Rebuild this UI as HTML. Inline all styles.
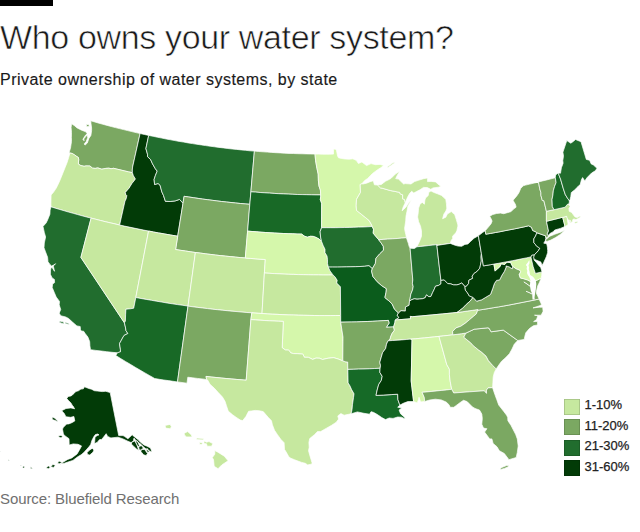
<!DOCTYPE html>
<html><head><meta charset="utf-8"><style>
html,body{margin:0;padding:0;background:#fff;}
body{width:640px;height:532px;position:relative;overflow:hidden;font-family:"Liberation Sans",Arial,sans-serif;color:#1a1a1a;}
.bar{position:absolute;left:0;top:0;width:52.5px;height:6.3px;background:#000;}
h1{position:absolute;left:0;top:16.6px;margin:0;font-weight:normal;font-size:34px;line-height:40px;letter-spacing:-0.35px;white-space:nowrap;-webkit-text-stroke:0.6px #fff;paint-order:normal;}
.sub{position:absolute;left:0;top:70px;margin:0;font-size:16px;line-height:20px;letter-spacing:0.48px;white-space:nowrap;-webkit-text-stroke:0.15px #1a1a1a;}
.src{position:absolute;left:0;top:489.6px;font-size:15px;line-height:18px;letter-spacing:-0.1px;color:#707070;white-space:nowrap;}
svg{position:absolute;left:0;top:0;}
.lg{position:absolute;left:563.6px;width:16.3px;height:16.1px;box-shadow:inset 0 0 0 0.8px rgba(0,0,0,0.18);}
.lt{position:absolute;left:584.5px;font-size:13px;line-height:16px;color:#222;white-space:nowrap;-webkit-text-stroke:0.25px #222;}
</style></head><body>
<div class="bar"></div>
<h1>Who owns your water system?</h1>
<div class="sub">Private ownership of water systems, by state</div>
<svg width="640" height="532" viewBox="0 0 640 532">
<g stroke="#fff" stroke-width="0.7" stroke-linejoin="round">
<path fill="#7ba862" d="M90.8 120.8L94.9 122.0L99.0 123.2L103.0 124.3L107.1 125.4L111.2 126.5L115.4 127.6L119.5 128.6L123.6 129.6L127.7 130.6L131.8 131.6L136.0 132.6L140.1 133.5L132.6 167.0L132.3 170.0L132.4 172.7L128.7 171.9L124.9 171.0L121.1 170.1L117.3 169.2L113.6 168.3L111.1 168.7L108.8 168.2L105.8 168.4L101.8 169.2L97.8 167.9L95.2 168.4L92.4 168.1L90.0 166.0L86.1 165.9L84.1 166.3L80.9 165.6L78.4 164.1L78.4 163.0L78.7 159.6L78.4 157.5L76.3 156.2L74.7 155.0L72.2 153.5L69.5 152.9L69.2 152.2L70.5 148.1L71.0 144.8L71.5 141.5L71.4 137.3L71.5 132.4L71.1 127.4L71.6 123.7L74.5 125.7L77.1 127.9L81.6 130.2L85.8 131.8L87.2 133.6L85.5 135.2L82.9 139.3L84.1 140.8L83.8 138.9L85.7 136.6L87.3 135.0L87.7 137.7L86.2 141.6L84.2 143.9L85.0 145.1L87.3 143.1L88.9 138.4L90.9 135.4L91.6 130.6L91.6 128.0L91.0 123.7L90.8 120.8Z"/>
<path fill="#c6e89f" d="M69.5 152.9L72.2 153.5L74.7 155.0L76.3 156.2L78.4 157.5L78.7 159.6L78.4 163.0L78.4 164.1L80.9 165.6L84.1 166.3L86.1 165.9L90.0 166.0L92.4 168.1L95.2 168.4L97.8 167.9L101.8 169.2L105.8 168.4L108.8 168.2L111.1 168.7L113.6 168.3L117.3 169.2L121.1 170.1L124.9 171.0L128.7 171.9L132.4 172.7L133.4 175.7L135.4 178.9L134.2 180.7L132.2 183.1L130.1 186.4L129.2 188.0L125.3 192.4L125.8 194.6L126.8 195.6L126.4 197.9L125.5 200.3L125.0 201.1L119.6 225.0L114.9 223.9L110.1 222.8L105.3 221.7L100.6 220.5L95.8 219.3L91.1 218.1L86.6 217.0L82.1 215.8L77.7 214.6L73.2 213.3L68.7 212.1L64.3 210.8L59.9 209.5L55.4 208.2L51.0 206.8L50.9 204.0L51.0 199.8L51.1 195.0L53.6 192.1L56.3 188.0L59.0 182.5L61.1 177.5L63.1 172.5L65.1 167.5L67.1 162.5L68.7 157.4L69.8 153.5L69.5 152.9Z"/>
<path fill="#216d2e" d="M51.0 206.8L55.4 208.2L59.9 209.5L64.3 210.8L68.7 212.1L73.2 213.3L77.7 214.6L82.1 215.8L86.6 217.0L91.1 218.1L80.9 257.4L124.4 322.8L125.4 327.0L126.0 330.7L127.9 333.5L124.1 335.4L123.1 337.0L119.5 343.6L120.4 349.2L120.5 351.8L117.4 352.8L112.0 352.3L106.7 351.7L101.3 351.0L95.9 350.4L90.5 349.7L89.9 345.8L89.7 341.7L87.9 337.1L85.3 333.7L83.6 331.2L81.4 331.1L80.5 329.8L80.2 326.5L76.9 325.9L72.7 322.3L68.6 318.5L65.6 316.9L60.8 315.8L59.2 313.2L60.7 309.5L59.2 304.8L59.5 301.4L56.2 297.0L54.2 292.3L52.2 287.5L52.6 284.1L54.6 282.6L54.4 279.4L52.1 277.9L50.4 274.3L50.5 270.1L51.2 267.5L52.1 267.5L54.5 271.3L53.3 266.0L55.6 263.7L53.5 265.1L51.6 266.0L49.9 264.4L48.0 261.7L47.6 257.3L45.5 251.8L44.0 247.8L44.3 243.0L45.6 237.0L44.3 232.4L43.0 226.4L46.1 223.0L47.6 219.9L49.9 214.2L50.1 210.1L51.0 206.8Z"/>
<path fill="#c6e89f" d="M91.1 218.1L95.8 219.3L100.6 220.5L105.3 221.7L110.1 222.8L114.9 223.9L119.6 225.0L124.4 226.1L129.3 227.1L134.1 228.1L138.9 229.1L143.7 230.1L148.6 231.0L135.8 297.5L133.7 308.2L130.3 308.8L125.9 309.2L125.6 314.8L125.4 321.0L124.4 322.8L80.9 257.4L91.1 218.1Z"/>
<path fill="#023b07" d="M140.1 133.5L144.4 134.5L148.7 135.4L145.9 148.6L147.5 154.2L147.5 156.6L150.6 159.6L152.5 163.8L155.3 168.7L157.2 171.1L155.4 175.5L154.1 179.4L154.6 184.5L158.1 183.5L160.1 185.3L161.8 191.8L163.5 195.5L165.4 201.3L170.2 201.5L175.1 200.9L179.5 199.4L183.0 203.2L177.7 236.2L172.8 235.4L168.0 234.6L163.1 233.7L158.3 232.9L153.4 232.0L148.6 231.0L143.7 230.1L138.9 229.1L134.1 228.1L129.3 227.1L124.4 226.1L119.6 225.0L125.0 201.1L125.5 200.3L126.4 197.9L126.8 195.6L125.8 194.6L125.3 192.4L129.2 188.0L130.1 186.4L132.2 183.1L134.2 180.7L135.4 178.9L133.4 175.7L132.4 172.7L132.3 170.0L132.6 167.0L140.1 133.5Z"/>
<path fill="#216d2e" d="M148.7 135.4L153.1 136.3L157.4 137.2L161.8 138.1L166.2 139.0L170.6 139.8L174.9 140.6L179.3 141.4L183.7 142.1L188.1 142.9L192.5 143.6L196.9 144.3L201.3 144.9L205.7 145.6L210.1 146.2L214.5 146.8L218.9 147.4L223.4 147.9L227.8 148.5L232.2 149.0L236.6 149.4L241.1 149.9L245.5 150.3L249.9 150.8L254.4 151.1L250.9 191.8L249.8 204.3L245.1 203.9L240.4 203.5L235.7 203.0L231.0 202.5L226.3 202.0L221.6 201.5L216.9 200.9L212.2 200.3L207.5 199.7L202.8 199.1L198.1 198.4L193.4 197.7L188.8 197.0L184.1 196.3L183.0 203.2L179.5 199.4L175.1 200.9L170.2 201.5L165.4 201.3L163.5 195.5L161.8 191.8L160.1 185.3L158.1 183.5L154.6 184.5L154.1 179.4L155.4 175.5L157.2 171.1L155.3 168.7L152.5 163.8L150.6 159.6L147.5 156.6L147.5 154.2L145.9 148.6L148.7 135.4Z"/>
<path fill="#7ba862" d="M183.0 203.2L184.1 196.3L188.8 197.0L193.4 197.7L198.1 198.4L202.8 199.1L207.5 199.7L212.2 200.3L216.9 200.9L221.6 201.5L226.3 202.0L231.0 202.5L235.7 203.0L240.4 203.5L245.1 203.9L249.8 204.3L247.6 231.1L245.3 258.0L240.3 257.6L235.3 257.1L230.3 256.6L225.3 256.1L220.3 255.6L215.3 255.0L210.3 254.4L205.4 253.8L200.4 253.1L195.4 252.5L190.5 251.8L185.5 251.0L180.5 250.3L175.6 249.5L177.7 236.2L183.0 203.2Z"/>
<path fill="#c6e89f" d="M148.6 231.0L153.4 232.0L158.3 232.9L163.1 233.7L168.0 234.6L172.8 235.4L177.7 236.2L175.6 249.5L180.5 250.3L185.5 251.0L190.5 251.8L195.4 252.5L188.0 306.1L182.8 305.3L177.5 304.6L172.3 303.8L167.1 303.0L161.9 302.1L156.6 301.2L151.4 300.3L146.2 299.4L141.0 298.5L135.8 297.5L148.6 231.0Z"/>
<path fill="#c6e89f" d="M195.4 252.5L200.4 253.1L205.4 253.8L210.3 254.4L215.3 255.0L220.3 255.6L225.3 256.1L230.3 256.6L235.3 257.1L240.3 257.6L245.3 258.0L250.3 258.4L255.3 258.8L260.3 259.2L265.3 259.5L264.4 273.0L262.0 313.5L256.9 313.2L251.8 312.8L246.9 312.5L242.0 312.1L237.0 311.6L232.1 311.2L227.2 310.7L222.3 310.2L217.4 309.7L212.5 309.2L207.6 308.6L202.7 308.0L197.8 307.4L192.9 306.8L188.0 306.1L195.4 252.5Z"/>
<path fill="#186926" d="M135.8 297.5L141.0 298.5L146.2 299.4L151.4 300.3L156.6 301.2L161.9 302.1L167.1 303.0L172.3 303.8L177.5 304.6L182.8 305.3L188.0 306.1L177.5 381.9L173.0 381.3L168.4 380.6L163.8 380.0L159.3 379.3L154.7 378.5L149.8 375.7L144.9 372.9L140.0 370.1L135.1 367.2L130.3 364.3L125.4 361.4L120.6 358.5L115.8 355.5L117.4 352.8L120.5 351.8L120.4 349.2L119.5 343.6L123.1 337.0L124.1 335.4L127.9 333.5L126.0 330.7L125.4 327.0L124.4 322.8L125.4 321.0L125.6 314.8L125.9 309.2L130.3 308.8L133.7 308.2L135.8 297.5Z"/>
<path fill="#7ba862" d="M188.0 306.1L192.9 306.8L197.8 307.4L202.7 308.0L207.6 308.6L212.5 309.2L217.4 309.7L222.3 310.2L227.2 310.7L232.1 311.2L237.0 311.6L242.0 312.1L246.9 312.5L251.8 312.8L250.9 319.6L246.2 380.2L241.1 379.8L236.1 379.4L231.1 378.9L226.1 378.5L221.1 378.0L216.1 377.5L211.1 377.0L206.0 376.4L206.7 379.5L202.0 378.9L197.3 378.4L192.5 377.8L187.8 377.2L187.0 383.2L177.5 381.9L188.0 306.1Z"/>
<path fill="#7ba862" d="M254.4 151.1L258.7 151.5L263.0 151.8L267.3 152.1L271.7 152.4L276.0 152.7L280.3 152.9L284.7 153.2L289.0 153.4L293.3 153.5L297.7 153.7L302.0 153.8L306.3 153.9L310.7 154.0L315.0 154.1L315.6 160.7L316.9 168.1L318.2 174.1L318.4 180.7L319.0 186.1L320.4 190.1L320.7 194.9L316.1 194.9L311.4 194.8L306.7 194.7L302.1 194.6L297.4 194.5L292.8 194.3L288.1 194.1L283.5 193.9L278.8 193.7L274.2 193.4L269.5 193.1L264.8 192.8L260.2 192.5L255.6 192.1L250.9 191.8L254.4 151.1Z"/>
<path fill="#186926" d="M250.9 191.8L255.6 192.1L260.2 192.5L264.8 192.8L269.5 193.1L274.2 193.4L278.8 193.7L283.5 193.9L288.1 194.1L292.8 194.3L297.4 194.5L302.1 194.6L306.7 194.7L311.4 194.8L316.1 194.9L320.7 194.9L320.7 196.8L320.3 199.5L321.7 203.5L321.6 227.7L320.1 231.7L320.6 237.1L321.5 241.3L319.1 239.1L316.2 237.5L313.3 236.4L310.3 236.3L307.4 237.2L304.5 236.2L301.6 234.1L297.1 234.0L292.6 233.8L288.1 233.7L283.6 233.5L279.1 233.3L274.6 233.0L270.1 232.8L265.6 232.5L261.1 232.2L256.6 231.8L252.1 231.5L247.6 231.1L249.8 204.3L250.9 191.8Z"/>
<path fill="#d5f7ab" d="M247.6 231.1L252.1 231.5L256.6 231.8L261.1 232.2L265.6 232.5L270.1 232.8L274.6 233.0L279.1 233.3L283.6 233.5L288.1 233.7L292.6 233.8L297.1 234.0L301.6 234.1L304.5 236.2L307.4 237.2L310.3 236.3L313.3 236.4L316.2 237.5L319.1 239.1L321.5 241.3L323.0 245.2L325.0 249.3L325.0 252.7L327.0 256.0L327.5 259.4L327.5 263.5L328.3 267.1L330.0 270.9L333.0 274.9L328.1 275.0L323.2 275.0L318.3 274.9L313.4 274.9L308.5 274.8L303.6 274.7L298.7 274.6L293.8 274.4L288.9 274.3L284.0 274.1L279.1 273.8L274.2 273.6L269.3 273.3L264.4 273.0L265.3 259.5L260.3 259.2L255.3 258.8L250.3 258.4L245.3 258.0L247.6 231.1Z"/>
<path fill="#c6e89f" d="M264.4 273.0L269.3 273.3L274.2 273.6L279.1 273.8L284.0 274.1L288.9 274.3L293.8 274.4L298.7 274.6L303.6 274.7L308.5 274.8L313.4 274.9L318.3 274.9L323.2 275.0L328.1 275.0L333.0 274.9L335.1 277.0L337.2 280.3L336.7 283.0L340.4 286.8L340.7 315.5L335.4 315.5L330.2 315.6L324.9 315.6L319.7 315.6L314.4 315.5L309.2 315.4L303.9 315.3L298.7 315.2L293.4 315.0L288.2 314.9L282.9 314.7L277.7 314.4L272.4 314.2L267.2 313.9L262.0 313.5L264.4 273.0Z"/>
<path fill="#d5f7ab" d="M251.8 312.8L256.9 313.2L262.0 313.5L267.2 313.9L272.4 314.2L277.7 314.4L282.9 314.7L288.2 314.9L293.4 315.0L298.7 315.2L303.9 315.3L309.2 315.4L314.4 315.5L319.7 315.6L324.9 315.6L330.2 315.6L335.4 315.5L340.7 315.5L340.7 322.2L343.0 337.1L342.8 360.9L338.1 359.0L333.7 357.7L328.2 358.2L322.6 359.5L319.3 358.2L316.0 358.1L312.7 359.4L308.3 357.3L304.4 357.3L302.8 354.1L297.3 353.7L293.5 353.6L290.8 352.9L288.7 350.1L285.4 350.0L282.2 347.7L283.3 321.4L278.6 321.2L274.0 321.0L269.4 320.8L264.8 320.5L260.1 320.2L255.5 319.9L250.9 319.6L251.8 312.8Z"/>
<path fill="#c6e89f" d="M250.9 319.6L255.5 319.9L260.1 320.2L264.8 320.5L269.4 320.8L274.0 321.0L278.6 321.2L283.3 321.4L282.2 347.7L285.4 350.0L288.7 350.1L290.8 352.9L293.5 353.6L297.3 353.7L302.8 354.1L304.4 357.3L308.3 357.3L312.7 359.4L316.0 358.1L319.3 358.2L322.6 359.5L328.2 358.2L333.7 357.7L338.1 359.0L342.8 360.9L345.9 361.9L347.7 362.0L347.8 369.1L348.1 382.9L349.8 385.6L351.6 389.6L354.0 393.8L353.5 397.6L352.5 404.3L352.0 409.7L351.1 413.8L344.1 415.2L340.9 413.6L337.8 415.9L338.6 419.1L336.3 422.2L331.6 425.3L326.1 428.4L320.6 431.6L317.5 431.6L314.4 434.7L309.7 438.6L308.9 442.5L309.2 447.3L308.5 450.7L310.2 456.7L312.0 462.7L312.0 464.0L307.7 464.9L305.3 463.3L301.7 462.4L298.0 461.1L294.4 459.7L290.2 458.0L288.5 456.2L286.2 452.1L284.5 449.4L284.1 442.7L280.7 439.2L277.3 434.4L274.5 430.3L272.4 424.8L271.5 420.8L268.1 417.2L263.2 411.6L259.2 410.7L255.1 410.4L251.6 410.9L248.6 411.3L245.9 416.5L242.7 420.6L240.4 420.1L237.0 417.9L232.6 414.8L228.2 411.1L226.4 405.5L225.0 401.3L222.5 397.1L218.3 392.6L214.2 388.1L210.0 384.3L207.6 380.0L206.7 379.5L206.0 376.4L211.1 377.0L216.1 377.5L221.1 378.0L226.1 378.5L231.1 378.9L236.1 379.4L241.1 379.8L246.2 380.2L250.9 319.6Z"/>
<path fill="#d5f7ab" d="M315.0 154.1L318.7 154.1L322.4 154.2L326.1 154.2L329.8 154.2L333.5 154.1L333.5 149.1L335.3 149.2L336.4 150.1L337.6 156.1L338.5 157.8L341.6 158.5L345.2 159.0L349.3 159.2L352.8 158.8L356.2 160.3L358.4 163.5L361.9 162.0L366.6 165.6L371.0 163.6L375.6 164.7L380.1 164.4L383.8 165.5L380.8 167.7L377.3 169.9L372.5 173.5L367.7 178.4L364.6 180.6L361.9 183.8L360.2 184.5L360.5 192.4L356.5 199.4L356.2 205.7L356.5 210.4L361.3 214.2L365.7 217.7L369.2 220.6L371.8 225.2L372.2 226.5L367.6 226.8L363.0 227.0L358.4 227.1L353.8 227.3L349.2 227.4L344.6 227.5L340.0 227.6L335.4 227.7L330.8 227.7L326.2 227.7L321.6 227.7L321.7 203.5L320.3 199.5L320.7 196.8L320.7 194.9L320.4 190.1L319.0 186.1L318.4 180.7L318.2 174.1L316.9 168.1L315.6 160.7L315.0 154.1Z"/>
<path fill="#216d2e" d="M321.6 227.7L326.2 227.7L330.8 227.7L335.4 227.7L340.0 227.6L344.6 227.5L349.2 227.4L353.8 227.3L358.4 227.1L363.0 227.0L367.6 226.8L372.2 226.5L373.5 229.2L373.2 233.2L376.3 236.9L378.6 239.6L381.1 242.9L383.3 246.2L383.5 250.2L379.8 253.8L376.0 258.1L375.3 263.6L372.3 268.7L369.0 265.7L364.5 266.3L360.0 266.5L355.5 266.7L350.9 266.8L346.4 266.9L341.9 267.0L337.3 267.1L332.8 267.1L328.3 267.1L327.5 263.5L327.5 259.4L327.0 256.0L325.0 252.7L325.0 249.3L323.0 245.2L321.5 241.3L320.6 237.1L320.1 231.7L321.6 227.7Z"/>
<path fill="#0b5c1c" d="M328.3 267.1L332.8 267.1L337.3 267.1L341.9 267.0L346.4 266.9L350.9 266.8L355.5 266.7L360.0 266.5L364.5 266.3L369.0 265.7L372.3 268.7L371.6 271.2L372.9 276.5L377.2 281.7L381.6 285.6L386.4 288.7L386.1 292.1L384.9 297.6L388.7 300.7L392.1 303.9L394.5 309.2L398.5 313.0L397.1 315.1L398.9 317.7L395.3 320.0L394.9 322.7L393.6 326.9L390.0 327.1L386.4 327.3L389.1 323.1L388.4 320.4L383.1 320.7L377.8 321.0L372.5 321.3L367.2 321.5L361.9 321.7L356.6 321.9L351.3 322.0L346.0 322.1L340.7 322.2L340.7 315.5L340.4 286.8L336.7 283.0L337.2 280.3L335.1 277.0L333.0 274.9L330.0 270.9L328.3 267.1Z"/>
<path fill="#7ba862" d="M340.7 322.2L346.0 322.1L351.3 322.0L356.6 321.9L361.9 321.7L367.2 321.5L372.5 321.3L377.8 321.0L383.1 320.7L388.4 320.4L389.1 323.1L386.4 327.3L390.0 327.1L393.6 326.9L394.4 330.2L391.9 333.8L390.5 337.2L390.1 339.3L388.0 340.8L386.5 344.2L385.7 348.4L382.6 352.6L381.2 357.4L379.8 362.2L380.5 365.5L380.1 368.3L374.7 368.5L369.4 368.8L364.0 369.0L358.6 369.1L353.2 369.3L347.9 369.4L347.8 369.1L347.7 362.0L345.9 361.9L342.8 360.9L343.0 337.1L340.7 322.2Z"/>
<path fill="#166a27" d="M347.9 369.4L353.2 369.3L358.6 369.1L364.0 369.0L369.4 368.8L374.7 368.5L380.1 368.3L379.8 372.3L382.2 376.3L381.3 380.4L378.7 384.5L377.2 390.0L376.0 395.4L383.2 395.1L391.2 394.6L397.7 394.2L397.9 399.6L399.3 403.5L400.0 405.1L397.7 407.2L401.9 408.1L399.1 410.0L400.5 413.7L404.5 417.2L405.2 418.9L401.4 417.2L397.7 417.0L393.0 418.4L389.2 418.0L385.5 419.6L381.7 417.5L378.9 415.6L376.1 413.8L373.3 412.3L371.0 411.7L369.6 414.2L363.9 413.3L357.4 411.9L351.1 413.8L352.0 409.7L352.5 404.3L353.5 397.6L354.0 393.8L351.6 389.6L349.8 385.6L348.1 382.9L347.8 369.1Z"/>
<path fill="#c6e89f" d="M372.2 226.5L371.8 225.2L369.2 220.6L365.7 217.7L361.3 214.2L356.5 210.4L356.2 205.7L356.5 199.4L360.5 192.4L360.2 184.5L361.9 183.8L362.9 184.0L366.5 183.2L370.1 181.7L373.3 180.8L374.4 184.8L377.5 185.0L380.5 187.9L382.5 188.3L390.2 190.5L394.9 191.4L399.7 192.4L400.3 194.0L402.7 194.8L402.6 198.9L404.5 199.4L405.3 202.7L403.2 206.9L402.1 210.8L405.7 207.4L408.6 203.1L411.6 199.7L407.9 206.1L407.0 211.3L406.0 216.1L405.7 220.9L404.6 228.4L405.0 231.1L405.8 234.4L406.4 237.7L401.8 238.1L397.1 238.5L392.5 238.8L387.8 239.1L383.2 239.4L378.6 239.7L378.6 239.6L376.3 236.9L373.2 233.2L373.5 229.2L372.2 226.5Z"/>
<path fill="#c6e89f" d="M377.5 185.0L381.4 184.4L385.8 181.0L387.6 180.3L391.1 178.3L395.4 174.0L399.7 171.2L397.3 175.2L395.7 178.6L398.5 179.1L403.6 184.0L405.4 183.6L411.0 184.0L414.5 181.6L419.0 180.1L423.5 178.7L427.6 177.9L427.5 181.6L431.2 181.4L435.5 181.9L439.7 185.5L441.2 186.3L438.5 187.2L433.0 187.9L430.8 189.3L427.3 187.6L423.5 187.4L420.0 189.8L416.5 191.5L413.8 193.1L411.7 191.3L409.6 193.5L407.6 197.1L405.3 202.7L404.5 199.4L402.6 198.9L402.7 194.8L400.3 194.0L399.7 192.4L394.9 191.4L390.2 190.5L382.5 188.3L380.5 187.9L377.5 185.0ZM416.9 246.8L420.9 246.4L424.9 246.0L428.8 245.5L432.8 245.1L436.8 244.6L437.0 245.4L450.2 243.4L451.3 240.2L452.6 238.7L452.7 235.9L454.5 234.3L455.8 232.8L456.9 230.6L457.8 226.4L457.9 225.0L456.4 219.8L454.7 214.6L451.3 211.6L447.3 214.0L445.8 217.2L442.6 218.7L443.9 214.0L445.9 211.0L446.8 208.2L446.4 203.5L445.8 199.5L444.7 198.3L441.5 195.4L437.5 193.8L433.5 192.3L431.0 190.9L428.8 192.2L428.2 195.6L425.6 197.9L424.9 200.0L424.4 204.2L422.3 202.4L420.1 203.9L418.6 208.1L418.2 212.9L417.6 217.0L418.6 221.7L420.5 226.2L421.5 230.9L421.5 236.3L419.6 241.2L416.9 246.8Z"/>
<path fill="#7ba862" d="M378.6 239.7L383.2 239.4L387.8 239.1L392.5 238.8L397.1 238.5L401.8 238.1L406.4 237.7L408.4 243.6L409.1 246.3L410.1 248.2L412.8 279.9L412.4 283.3L413.2 286.6L412.5 290.1L410.8 294.3L410.1 298.5L409.5 301.2L409.1 305.3L405.5 307.0L405.3 311.1L401.0 310.7L398.5 313.0L394.5 309.2L392.1 303.9L388.7 300.7L384.9 297.6L386.1 292.1L386.4 288.7L381.6 285.6L377.2 281.7L372.9 276.5L371.6 271.2L372.3 268.7L375.3 263.6L376.0 258.1L379.8 253.8L383.5 250.2L383.3 246.2L381.1 242.9L378.6 239.6Z"/>
<path fill="#216d2e" d="M416.9 246.8L420.9 246.4L424.9 246.0L428.8 245.5L432.8 245.1L436.8 244.6L440.9 280.4L441.0 283.8L438.6 285.4L435.5 286.2L433.9 290.0L432.6 292.6L430.9 296.5L428.8 296.7L426.5 294.9L425.2 297.7L422.7 298.7L419.6 299.0L417.0 299.2L414.3 298.8L411.7 299.7L409.5 301.2L410.1 298.5L410.8 294.3L412.5 290.1L413.2 286.6L412.4 283.3L412.8 279.9L410.1 248.2L414.3 248.5L416.9 246.8Z"/>
<path fill="#023b07" d="M450.2 243.4L437.0 245.4L436.8 244.6L440.9 280.4L444.2 280.0L447.7 283.6L450.9 283.9L453.6 284.9L456.8 284.9L459.3 284.2L461.7 282.9L464.9 286.5L466.4 286.3L468.6 283.5L468.9 280.2L472.6 278.4L472.2 276.2L473.9 273.6L477.2 271.3L479.8 268.1L480.4 265.3L481.3 261.0L481.1 257.0L481.4 253.6L478.4 235.8L474.0 238.2L470.5 241.5L467.9 244.0L464.9 244.4L461.7 246.3L458.1 246.1L455.0 245.2L450.2 243.4Z"/>
<path fill="#023b07" d="M464.9 286.5L461.7 282.9L459.3 284.2L456.8 284.9L453.6 284.9L450.9 283.9L447.7 283.6L444.2 280.0L440.9 280.4L441.0 283.8L438.6 285.4L435.5 286.2L433.9 290.0L432.6 292.6L430.9 296.5L428.8 296.7L426.5 294.9L425.2 297.7L422.7 298.7L419.6 299.0L417.0 299.2L414.3 298.8L411.7 299.7L409.5 301.2L409.1 305.3L405.5 307.0L405.3 311.1L401.0 310.7L398.5 313.0L397.1 315.1L398.9 317.7L395.3 320.0L410.7 318.8L410.3 316.4L412.7 316.7L427.0 315.4L442.9 313.9L457.0 312.5L462.6 308.3L466.3 304.4L470.1 301.1L473.1 297.4L469.4 296.0L467.3 292.6L465.4 290.2L464.9 286.5Z"/>
<path fill="#c6e89f" d="M457.0 312.5L442.9 313.9L427.0 315.4L412.7 316.7L410.3 316.4L410.7 318.8L395.3 320.0L394.9 322.7L393.6 326.9L394.4 330.2L391.9 333.8L390.5 337.2L390.1 339.3L388.0 340.8L392.5 340.5L397.1 340.2L401.7 339.9L406.2 339.5L410.8 339.1L415.5 338.8L420.2 338.3L424.9 337.9L429.6 337.4L434.3 336.9L439.0 336.4L443.6 335.9L448.2 335.4L452.8 334.8L452.6 331.4L456.0 327.9L460.7 326.3L465.7 322.9L469.6 319.6L473.4 316.4L476.3 313.9L478.0 309.5L472.8 310.3L467.5 311.0L462.3 311.8L457.0 312.5Z"/>
<path fill="#023b07" d="M410.8 339.1L406.2 339.5L401.7 339.9L397.1 340.2L392.5 340.5L388.0 340.8L386.5 344.2L385.7 348.4L382.6 352.6L381.2 357.4L379.8 362.2L380.5 365.5L380.1 368.3L379.8 372.3L382.2 376.3L381.3 380.4L378.7 384.5L377.2 390.0L376.0 395.4L383.2 395.1L391.2 394.6L397.7 394.2L397.9 399.6L399.3 403.5L400.0 405.1L403.3 403.3L407.8 401.6L413.6 401.5L411.2 381.1L412.0 340.4L410.8 339.1Z"/>
<path fill="#d5f7ab" d="M439.0 336.4L434.3 336.9L429.6 337.4L424.9 337.9L420.2 338.3L415.5 338.8L410.8 339.1L412.0 340.4L411.2 381.1L413.6 401.5L417.2 402.9L418.6 399.4L419.0 397.3L420.6 401.9L424.6 401.5L424.3 397.5L422.1 392.3L427.0 391.9L431.9 391.4L436.9 390.9L441.8 390.4L446.8 389.9L451.7 389.3L450.2 381.3L449.4 374.7L449.4 369.2L446.8 364.6L439.0 336.4Z"/>
<path fill="#c6e89f" d="M452.8 334.8L448.2 335.4L443.6 335.9L439.0 336.4L446.8 364.6L449.4 369.2L449.4 374.7L450.2 381.3L451.7 389.3L453.7 393.0L469.4 391.8L484.3 390.8L486.5 393.4L486.5 390.1L488.0 387.9L492.6 387.7L492.9 382.3L493.2 376.9L494.3 372.6L496.2 368.9L492.6 365.4L488.4 360.6L486.0 356.1L481.5 352.1L478.3 349.8L473.3 345.7L470.6 342.7L466.9 339.8L463.8 337.2L465.9 333.1L461.5 333.7L457.2 334.3L452.8 334.8Z"/>
<path fill="#7ba862" d="M451.7 389.3L446.8 389.9L441.8 390.4L436.9 390.9L431.9 391.4L427.0 391.9L422.1 392.3L424.3 397.5L424.6 401.5L429.7 400.0L435.4 399.2L441.3 399.9L446.2 402.1L448.8 404.5L450.3 407.3L453.8 407.3L457.0 404.9L460.2 402.5L463.5 400.3L467.1 401.6L472.5 407.0L475.0 408.4L479.5 410.1L481.8 414.0L482.3 418.5L481.8 424.2L483.5 428.1L486.9 428.7L484.6 432.1L489.7 438.9L491.9 438.9L493.1 443.4L497.0 446.8L499.3 450.7L504.3 453.5L507.7 458.0L508.9 459.7L516.2 457.5L517.3 452.4L518.2 446.0L517.3 438.9L515.6 434.3L511.1 425.6L507.9 420.7L507.7 417.4L506.6 415.2L504.0 411.8L498.7 405.0L496.7 399.4L494.8 394.3L492.6 387.7L488.0 387.9L486.5 390.1L486.5 393.4L484.3 390.8L469.4 391.8L453.7 393.0L451.7 389.3Z"/>
<path fill="#7ba862" d="M517.8 340.5L503.3 330.1L491.1 331.8L489.1 328.3L487.9 327.8L474.2 329.2L469.1 331.6L465.9 333.1L463.8 337.2L466.9 339.8L470.6 342.7L473.3 345.7L478.3 349.8L481.5 352.1L486.0 356.1L488.4 360.6L492.6 365.4L496.2 368.9L498.8 365.1L501.6 361.2L505.5 357.8L509.4 353.7L512.0 349.1L514.4 343.9L517.8 340.5Z"/>
<path fill="#7ba862" d="M478.0 309.5L476.3 313.9L473.4 316.4L469.6 319.6L465.7 322.9L460.7 326.3L456.0 327.9L452.6 331.4L452.8 334.8L457.2 334.3L461.5 333.7L465.9 333.1L469.1 331.6L474.2 329.2L487.9 327.8L489.1 328.3L491.1 331.8L503.3 330.1L517.8 340.5L524.2 339.4L524.8 336.4L525.8 332.8L529.4 328.6L533.3 325.8L537.6 324.9L537.5 321.5L533.6 321.6L536.5 319.6L537.9 315.8L534.5 315.2L541.1 315.2L543.1 311.3L542.7 307.2L539.4 307.2L533.0 307.9L539.1 305.9L541.6 304.7L540.5 302.2L539.1 299.0L534.0 300.1L529.0 301.1L523.9 302.1L518.9 303.1L513.8 304.1L508.7 305.1L503.6 306.0L498.5 306.9L493.4 307.7L488.3 308.6L483.2 309.4L478.1 310.2Z"/>
<path fill="#7ba862" d="M457.0 312.5L462.3 311.8L467.5 311.0L472.8 310.3L478.0 309.5L478.1 310.2L483.2 309.4L488.3 308.6L493.4 307.7L498.5 306.9L503.6 306.0L508.7 305.1L513.8 304.1L518.9 303.1L523.9 302.1L529.0 301.1L534.0 300.1L539.1 299.0L537.1 294.6L536.7 294.3L536.4 291.7L537.6 286.2L539.5 282.3L541.3 278.0L537.4 280.0L531.5 282.1L527.7 280.0L523.7 278.7L520.4 278.0L519.2 274.8L520.7 271.7L519.7 270.1L515.9 268.6L512.6 266.2L512.1 268.9L509.5 267.0L506.0 265.9L506.2 267.0L504.4 271.4L501.9 275.3L499.6 279.9L496.5 280.4L494.4 283.5L492.7 288.6L490.5 294.5L485.1 297.7L481.7 299.8L476.6 301.2L473.1 297.4L470.1 301.1L466.3 304.4L462.6 308.3L457.0 312.5Z"/>
<path fill="#023b07" d="M481.4 253.6L481.1 257.0L481.3 261.0L480.4 265.3L479.8 268.1L477.2 271.3L473.9 273.6L472.2 276.2L472.6 278.4L468.9 280.2L468.6 283.5L466.4 286.3L464.9 286.5L465.4 290.2L467.3 292.6L469.4 296.0L473.1 297.4L476.6 301.2L481.7 299.8L485.1 297.7L490.5 294.5L492.7 288.6L494.4 283.5L496.5 280.4L499.6 279.9L501.9 275.3L504.4 271.4L506.2 267.0L506.0 265.9L509.5 267.0L512.1 268.9L512.6 266.2L511.5 264.6L510.9 262.6L507.0 262.1L504.7 264.5L501.3 263.8L499.6 267.0L497.6 268.6L495.1 271.1L493.9 264.1L490.4 264.7L486.9 265.3L483.4 265.9L481.4 253.6Z"/>
<path fill="#d5f7ab" d="M493.9 264.1L498.5 263.3L503.2 262.4L507.8 261.6L512.4 260.7L517.0 259.8L521.6 258.8L526.3 257.9L530.9 256.9L533.1 266.4L535.4 273.4L542.0 271.9L541.7 275.6L541.3 278.0L537.4 280.0L531.5 282.1L527.7 280.0L523.7 278.7L520.4 278.0L519.2 274.8L520.7 271.7L519.7 270.1L515.9 268.6L512.6 266.2L511.5 264.6L510.9 262.6L507.0 262.1L504.7 264.5L501.3 263.8L499.6 267.0L497.6 268.6L495.1 271.1L493.9 264.1Z"/>
<path fill="#023b07" d="M530.9 256.9L531.5 255.4L532.9 254.8L534.3 255.0L534.0 257.2L534.0 259.9L536.1 262.2L539.0 265.8L540.7 267.5L542.0 271.9L535.4 273.4L533.1 266.4L530.9 256.9Z"/>
<path fill="#023b07" d="M478.4 235.8L482.2 232.8L485.2 230.7L485.8 234.2L490.6 233.4L495.4 232.5L500.1 231.7L504.9 230.7L509.6 229.8L514.4 228.9L519.1 227.9L523.9 226.9L528.6 225.8L531.5 227.3L532.7 230.5L536.1 232.0L536.9 232.8L535.5 236.1L533.8 238.9L533.9 242.8L535.2 244.2L536.7 246.2L538.6 247.4L539.8 248.3L538.3 250.7L536.8 252.4L534.9 254.2L534.3 255.0L532.9 254.8L531.5 255.4L530.9 256.9L526.3 257.9L521.6 258.8L517.0 259.8L512.4 260.7L507.8 261.6L503.2 262.4L498.5 263.3L493.9 264.1L490.4 264.7L486.9 265.3L483.4 265.9L481.4 253.6L478.4 235.8Z"/>
<path fill="#023b07" d="M534.3 255.0L534.9 254.2L536.8 252.4L538.3 250.7L539.8 248.3L538.6 247.4L536.7 246.2L535.2 244.2L533.9 242.8L533.8 238.9L535.5 236.1L536.9 232.8L545.6 235.8L545.8 238.5L545.3 240.7L544.2 242.4L543.8 243.2L545.5 243.5L546.8 243.9L547.4 247.2L547.7 250.6L547.6 252.7L546.4 256.5L545.4 258.8L543.6 262.7L542.1 265.4L540.8 261.9L538.5 261.0L535.0 259.7L533.6 258.0L534.3 255.0Z"/>
<path fill="#7ba862" d="M485.8 234.2L485.2 230.7L488.2 227.3L491.1 223.7L492.1 221.1L491.2 218.9L489.7 216.2L492.8 214.5L496.6 213.5L500.5 213.1L503.6 213.7L507.3 212.7L511.1 211.6L513.5 209.1L516.1 207.2L515.5 204.5L514.0 202.1L513.1 200.2L516.7 196.0L518.9 192.8L520.8 188.2L523.3 185.8L525.5 185.1L529.8 184.1L534.1 183.1L538.4 182.1L538.3 182.0L539.0 184.7L539.7 188.7L540.9 192.6L540.9 195.3L542.3 200.5L543.9 200.7L546.4 211.3L546.4 221.0L548.5 231.0L547.1 234.1L548.1 235.4L548.0 236.6L547.3 237.9L545.8 237.4L545.6 235.8L536.9 232.8L536.1 232.0L532.7 230.5L531.5 227.3L528.6 225.8L523.9 226.9L519.1 227.9L514.4 228.9L509.6 229.8L504.9 230.7L500.1 231.7L495.4 232.5L490.6 233.4L485.8 234.2ZM545.7 241.1L547.1 241.4L550.9 240.1L555.5 237.6L559.9 234.7L565.3 229.9L561.3 231.9L558.5 232.9L554.7 234.3L549.9 236.2L547.3 238.2L545.5 240.0L545.7 241.1Z"/>
<path fill="#023b07" d="M548.1 235.4L547.1 234.1L548.5 231.0L546.4 221.0L546.5 221.3L550.5 220.3L554.6 219.3L558.6 218.3L562.7 217.2L562.7 217.4L564.7 225.2L564.5 226.7L560.4 228.4L558.5 228.9L554.7 230.1L553.0 231.9L550.3 233.3L548.1 235.4Z"/>
<path fill="#c6e89f" d="M564.5 226.7L564.7 225.2L562.7 217.4L566.7 216.3L567.1 217.9L568.1 220.0L569.6 220.3L570.4 220.4L571.0 222.4L570.3 223.0L568.6 220.3L567.3 219.2L568.0 223.9L567.8 225.1L564.5 226.7Z"/>
<path fill="#c6e89f" d="M562.7 217.2L558.6 218.3L554.6 219.3L550.5 220.3L546.5 221.3L546.4 221.0L546.4 211.3L554.0 209.7L565.1 207.2L567.4 204.3L569.1 203.8L568.9 204.7L570.1 206.6L568.9 208.5L569.2 211.3L571.8 212.5L573.2 214.6L575.0 216.9L577.4 217.6L579.7 216.2L580.9 216.5L579.3 218.1L576.5 219.3L575.0 219.7L574.1 218.8L572.7 219.7L572.6 221.7L571.0 222.4L570.4 220.4L569.6 220.3L568.1 220.0L567.1 217.9L566.7 216.3L562.7 217.4Z"/>
<path fill="#7ba862" d="M554.0 209.7L546.4 211.3L543.9 200.7L542.3 200.5L540.9 195.3L540.9 192.6L539.7 188.7L539.0 184.7L538.3 182.0L542.6 180.9L546.8 179.9L551.1 178.8L555.3 177.7L556.1 182.5L554.6 186.3L553.3 190.8L552.9 195.1L552.0 199.5L552.3 206.4L554.0 209.7Z"/>
<path fill="#186926" d="M554.0 209.7L552.3 206.4L552.0 199.5L552.9 195.1L553.3 190.8L554.6 186.3L556.1 182.5L555.3 177.7L555.6 175.0L558.1 172.9L560.6 179.2L563.2 188.2L565.3 194.6L567.5 198.2L569.4 200.8L569.1 203.8L567.4 204.3L565.1 207.2L554.0 209.7Z"/>
<path fill="#216d2e" d="M558.1 172.9L560.5 173.2L561.4 167.8L563.1 163.2L562.8 160.5L563.5 156.1L562.9 152.2L566.8 140.6L570.8 143.2L573.2 141.5L575.5 139.5L581.0 141.7L584.9 154.8L586.3 159.4L589.6 160.3L591.2 163.9L593.5 165.1L597.0 168.3L595.3 170.8L591.6 173.0L587.1 177.6L584.8 180.9L582.6 177.6L581.4 179.8L580.3 184.3L578.0 186.6L574.5 190.0L571.3 192.6L570.8 196.6L570.1 199.6L569.4 200.8L567.5 198.2L565.3 194.6L563.2 188.2L560.6 179.2L558.1 172.9Z"/>
<path fill="#023b07" d="M110.2 392.6L105.8 391.3L102.1 391.6L97.7 391.1L94.4 390.7L91.5 389.2L88.8 388.5L84.5 386.8L83.3 388.8L80.9 389.1L78.4 390.8L75.9 391.4L74.0 393.5L71.1 395.9L68.1 396.5L66.8 398.6L68.5 400.6L70.9 402.9L72.4 405.5L73.0 406.0L74.6 408.8L70.9 407.9L66.0 408.5L61.7 410.7L64.3 413.6L65.9 416.8L70.7 417.3L73.9 416.5L74.8 420.9L72.2 422.5L68.8 423.9L66.6 424.1L63.4 427.3L62.5 429.1L63.4 434.0L64.8 435.7L69.0 438.7L69.2 445.1L73.2 443.9L78.0 444.3L81.5 445.9L80.4 448.2L77.1 453.9L71.8 457.9L67.7 459.4L63.3 462.1L59.4 463.9L64.5 463.2L68.7 461.8L72.9 460.4L77.4 457.0L81.1 454.8L83.8 452.6L86.3 449.8L88.8 447.0L90.7 444.6L91.9 440.4L93.9 436.6L95.4 434.6L97.8 434.0L99.0 434.9L97.2 435.5L95.0 437.2L94.7 441.7L94.1 443.6L97.1 442.5L99.6 439.6L101.7 439.4L103.8 436.8L106.2 433.7L107.6 436.4L110.9 437.9L117.9 437.2L122.5 438.7L127.2 440.9L131.5 442.8L133.4 440.7L134.0 438.1L136.3 440.9L141.0 444.3L143.9 447.3L147.0 449.8L150.0 451.2L152.0 451.9L150.5 448.0L147.1 446.2L143.9 444.9L140.3 442.1L138.3 439.8L133.3 435.9L132.2 434.7L129.9 436.9L127.9 438.8L124.4 436.3L123.0 435.6L118.7 435.6L114.4 413.9L110.2 392.6ZM131.3 442.3L134.8 440.9L136.8 444.2L138.7 450.5L136.6 449.1L133.8 446.5L131.6 444.2ZM135.2 440.7L137.4 441.0L139.4 445.8L138.1 446.7L136.5 444.3ZM138.6 446.6L141.5 445.7L143.3 448.0L140.9 450.8L139.3 449.8ZM140.8 449.3L144.7 449.5L147.5 453.6L146.1 455.5L143.6 454.8L141.0 451.7ZM145.7 449.2L147.4 448.6L149.3 451.4L147.7 452.5ZM92.8 448.4L93.8 450.2L93.1 452.1L89.8 455.0L87.5 454.5L87.1 452.6L89.3 450.3L91.3 448.9ZM52.5 417.1L54.9 418.3L57.5 420.9L58.0 421.9L55.4 420.6L52.4 419.6L52.2 418.1ZM60.8 435.5L62.6 436.3L61.1 437.9L59.1 437.1L58.1 435.9ZM58.8 460.9L62.1 462.6L60.5 464.3L57.6 463.3ZM52.9 464.4L55.3 465.3L53.7 467.4L50.7 466.8ZM48.3 466.0L50.4 466.9L48.6 468.7L46.1 468.1ZM30.5 466.7L33.0 468.5L30.7 468.8ZM23.4 466.1L25.0 466.9L23.6 468.1L22.6 467.3ZM20.0 465.1L21.6 465.9L20.3 466.1ZM8.5 459.5L9.4 460.4L8.3 460.7ZM-0.7 450.4L0.6 451.6L-0.6 451.5Z"/>
<path fill="#c6e89f" d="M214.8 450.6L217.9 452.2L224.3 456.2L228.1 460.8L221.8 464.9L218.0 468.7L214.2 466.3L213.5 459.6L212.3 457.6L214.8 454.2ZM204.0 440.9L206.5 442.2L209.0 441.6L212.8 443.6L211.6 446.2L207.2 446.2L206.5 443.8L204.0 443.6ZM196.5 438.0L203.4 438.5L203.4 439.9L196.5 439.6ZM199.6 442.3L202.8 442.9L201.5 444.5L199.6 444.3ZM184.2 433.2L187.7 431.6L191.4 434.9L192.1 436.9L186.4 436.9L184.5 434.9ZM165.1 425.4L170.2 424.4L171.4 426.8L170.1 428.8L165.7 428.1Z"/>
<path fill="#7ba862" d="M86.2 124.6L88.9 124.4L89.2 126.5L86.8 126.7Z"/>
<path fill="#c6e89f" d="M387.1 167.0L394.0 162.1L394.5 163.1L388.0 167.6Z"/>
<path fill="#7ba862" d="M500.6 469.5L504.4 468.4L507.9 467.0L509.0 465.8L506.5 465.6L502.9 467.0L500.4 468.2Z"/>
<path fill="#216d2e" d="M65.1 322.2L69.0 323.5L69.1 324.5L65.0 323.4ZM59.4 321.0L63.7 322.1L63.8 323.9L59.6 322.4Z"/>
<path fill="#c6e89f" d="M574.3 222.2L577.1 221.2L578.0 222.6L575.1 223.4Z"/>
</g>
<path fill="#fff" stroke="none" d="M529 260.4L527.8 262.4L525.8 265L527 266.5L526.6 268.7L527.3 270.7L527 272.9L527.8 275.1L529.2 277L530.4 280L529.9 285.7L530.8 290.4L532.2 294.1L532.5 299.5L534.8 299.5L534.5 297.5L535 294.1L535.8 289.4L536.3 284L535.8 280.5L534.1 278L532.7 276.5L530.2 275.1L529.7 273.1L529.5 271.6L528.8 269.7L529 267.2L528.5 265.3L529.5 263.3L529.5 260.6Z"/>
<path fill="none" stroke="#fff" stroke-width="1" d="M523.8 281.9L527 284L530 286.2M526.1 291.3L529 292.5L532.2 294.1"/>
</svg>
<div class="lg" style="top:398.6px;background:#c6e89f"></div><div class="lt" style="top:397px">1-10%</div>
<div class="lg" style="top:419.1px;background:#7ba862"></div><div class="lt" style="top:417.5px">11-20%</div>
<div class="lg" style="top:439.6px;background:#216d2e"></div><div class="lt" style="top:438px">21-30%</div>
<div class="lg" style="top:460.2px;background:#023b07"></div><div class="lt" style="top:458.6px">31-60%</div>
<div class="src">Source: Bluefield Research</div>
</body></html>
